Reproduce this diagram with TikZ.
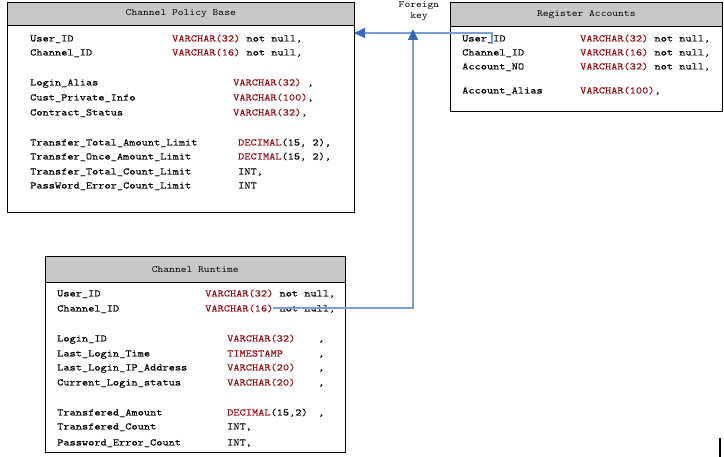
\documentclass[tikz,border=0pt]{standalone}
\usepackage{fontspec}
\newfontfamily\tbl{Latin Modern Mono}[FakeStretch=1.18,FakeBold=0.05]
\newfontfamily\tblh{Latin Modern Mono}[FakeStretch=1.15]
\usetikzlibrary{arrows.meta}
\definecolor{typered}{RGB}{140,10,20}
\definecolor{hdrgray}{RGB}{200,200,200}
\definecolor{fkline}{RGB}{120,160,210}
\definecolor{fkhead}{RGB}{55,105,190}
\newcommand\tblfont{\tbl\fontsize{10}{12}\selectfont}
\newcommand\hdrfont{\tblh\fontsize{9.6}{11.5}\selectfont}
\newcommand\ty[1]{\textcolor{typered}{#1}}
\begin{document}
\begin{tikzpicture}[x=1pt,y=-1pt,
  tbox/.style={draw=black, line width=0.6pt, fill=white, anchor=north west, inner sep=0pt},
  thead/.style={draw=black, line width=0.6pt, fill=hdrgray, anchor=north west, inner sep=0pt, font=\hdrfont},
  fld/.style={anchor=base west, inner sep=0pt, font=\tblfont},
  typ/.style={fld, text=typered},
  fk/.style={draw=fkline, line width=1.2pt, -{Triangle[length=11pt,width=10pt,color=fkhead]}},
  lbl/.style={align=center, inner sep=0pt, font=\hdrfont}
]
\useasboundingbox (0,0) rectangle (724,457);

% ---------- Channel Policy Base ----------
\node[tbox, minimum width=347pt, minimum height=210pt] (pbox) at (7,2) {};
\node[thead, minimum width=347pt, minimum height=23pt] (phead) at (7,2) {Channel Policy Base};
\node[fld] (p1) at (30,41.5) {User\_ID};
\node[fld] (p1t) at (172,41.5) {\ty{VARCHAR(32)} not null,};
\node[fld] (p2) at (30,55.5) {Channel\_ID};
\node[fld] (p2t) at (172,55.5) {\ty{VARCHAR(16)} not null,};
\node[fld] (p3) at (30,85.5) {Login\_Alias};
\node[fld] (p3t) at (233,85.5) {\ty{VARCHAR(32)} ,};
\node[fld] (p4) at (30,100.5) {Cust\_Private\_Info};
\node[fld] (p4t) at (233,100.5) {\ty{VARCHAR(100)},};
\node[fld] (p5) at (30,115.5) {Contract\_Status};
\node[fld] (p5t) at (233,115.5) {\ty{VARCHAR(32)},};
\node[fld] (p6) at (30,145.5) {Transfer\_Total\_Amount\_Limit};
\node[fld] (p6t) at (238,145.5) {\ty{DECIMAL}(15, 2),};
\node[fld] (p7) at (30,159.5) {Transfer\_Once\_Amount\_Limit};
\node[fld] (p7t) at (238,159.5) {\ty{DECIMAL}(15, 2),};
\node[fld] (p8) at (30,174.5) {Transfer\_Total\_Count\_Limit};
\node[fld] (p8t) at (238,174.5) {INT,};
\node[fld] (p9) at (30,188.5) {PassWord\_Error\_Count\_Limit};
\node[fld] (p9t) at (238,188.5) {INT};

% ---------- Register Accounts ----------
\node[tbox, minimum width=272pt, minimum height=109pt] (rbox) at (450,2) {};
\node[thead, minimum width=272pt, minimum height=24pt] (rhead) at (450,2) {Register Accounts};
\node[fld] (r1) at (462,41.5) {User\_ID};
\node[fld] (r1t) at (580,41.5) {\ty{VARCHAR(32)} not null,};
\node[fld] (r2) at (462,55.5) {Channel\_ID};
\node[fld] (r2t) at (580,55.5) {\ty{VARCHAR(16)} not null,};
\node[fld] (r3) at (462,69.5) {Account\_NO};
\node[fld] (r3t) at (580,69.5) {\ty{VARCHAR(32)} not null,};
\node[fld] (r4) at (462,93.5) {Account\_Alias};
\node[fld] (r4t) at (580,93.5) {\ty{VARCHAR(100)},};

% ---------- Channel Runtime ----------
\node[tbox, minimum width=300pt, minimum height=196pt] (cbox) at (45,256) {};
\node[thead, minimum width=300pt, minimum height=26pt] (chead) at (45,256) {Channel Runtime};
\node[fld] (c1) at (57,296.5) {User\_ID};
\node[fld] (c1t) at (205,296.5) {\ty{VARCHAR(32)} not null,};
\node[fld] (c2) at (57,311.5) {Channel\_ID};
\node[fld] (c2t) at (205,311.5) {\ty{VARCHAR(16)} not null,};
\node[fld] (c3) at (57,341.5) {Login\_ID};
\node[typ] (c3t) at (227,341.5) {VARCHAR(32)};
\node[fld] (c3c) at (318,341.5) {,};
\node[fld] (c4) at (57,356.5) {Last\_Login\_Time};
\node[typ] (c4t) at (227,356.5) {TIMESTAMP};
\node[fld] (c4c) at (318,356.5) {,};
\node[fld] (c5) at (57,370.5) {Last\_Login\_IP\_Address};
\node[typ] (c5t) at (227,370.5) {VARCHAR(20)};
\node[fld] (c5c) at (318,370.5) {,};
\node[fld] (c6) at (57,385.5) {Current\_Login\_status};
\node[typ] (c6t) at (227,385.5) {VARCHAR(20)};
\node[fld] (c6c) at (318,385.5) {,};
\node[fld] (c7) at (57,415.5) {Transfered\_Amount};
\node[fld] (c7t) at (227,415.5) {\ty{DECIMAL}(15,2)};
\node[fld] (c7c) at (318,415.5) {,};
\node[fld] (c8) at (57,429.5) {Transfered\_Count};
\node[fld] (c8t) at (227,429.5) {INT,};
\node[fld] (c9) at (57,445.5) {Password\_Error\_Count};
\node[fld] (c9t) at (227,445.5) {INT,};

% ---------- Foreign key connectors ----------
\node[lbl] (fklabel) at (419,11) {Foreign\\key};
\coordinate (rsrc) at (492,44);
\coordinate (ptgt) at (354,33);
\coordinate (csrc) at (273,308);
\coordinate (fktgt) at (413,29);
\draw[fk] (rsrc) |- (ptgt);
\draw[fk] (csrc) -| (fktgt);

% ---------- cursor bar ----------
\coordinate (barT) at (720,438);
\coordinate (barB) at (720,457);
\draw[line width=2pt] (barT) -- (barB);
\end{tikzpicture}
\end{document}
